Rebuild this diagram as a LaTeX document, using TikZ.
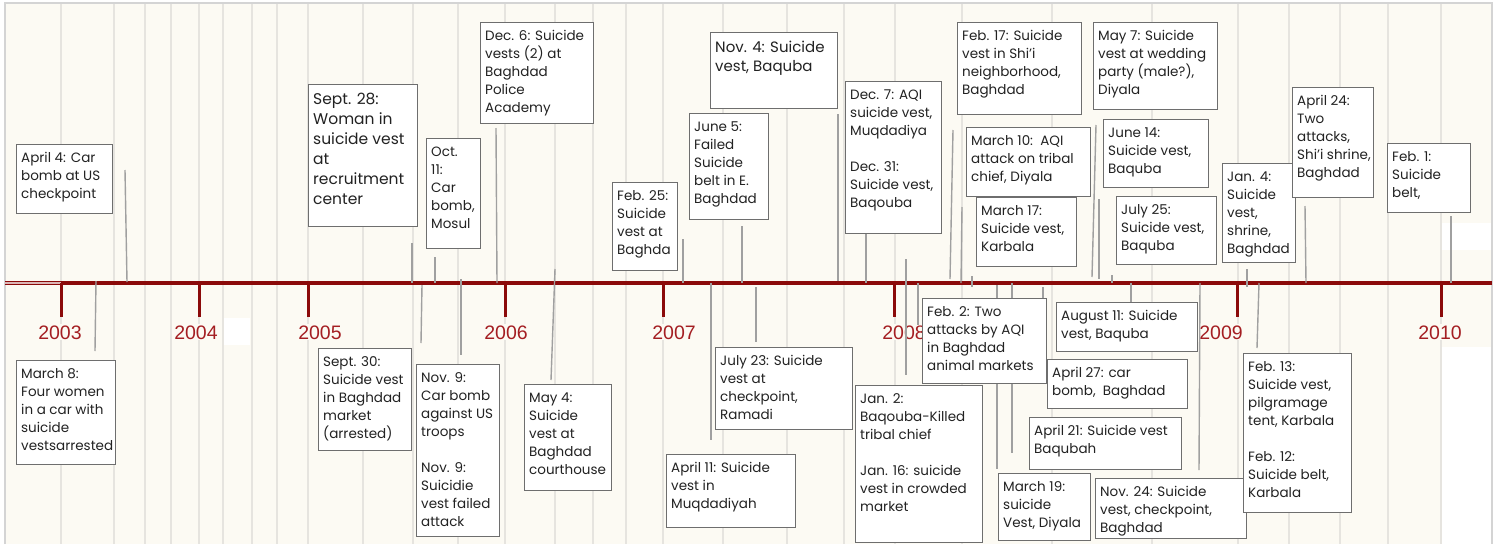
\documentclass[tikz,border=0pt]{standalone}
\usepackage{fontspec}
\setmainfont{Poppins}
\newfontfamily\yearfont{Liberation Sans}
\definecolor{cream}{HTML}{FCFAF3}
\definecolor{gridc}{HTML}{E6E4DF}
\definecolor{axisred}{HTML}{8B0A0A}
\definecolor{yearred}{HTML}{A41E22}
\definecolor{boxgrey}{HTML}{6E6E6E}
\definecolor{conngrey}{HTML}{A0A0A0}
\definecolor{txt}{HTML}{222222}
\definecolor{framec}{HTML}{D4D4D4}
\tikzset{
  ebox/.style={draw=boxgrey, line width=1.3pt, fill=white, anchor=north west, inner sep=0pt},
  etext/.style={anchor=north west, inner sep=0pt, align=left, text=txt,
    font=\fontsize{13.5}{18}\selectfont, execute at begin node=\strut},
  bigtext/.style={font=\fontsize{15.5}{20}\selectfont},
  midtext/.style={font=\fontsize{15}{19.3}\selectfont},
  conn/.style={draw=conngrey, line width=1.4pt},
  gridl/.style={draw=gridc, line width=1.5pt},
  yeartick/.style={draw=axisred, line width=3pt},
  yearlbl/.style={anchor=base, inner sep=1pt, fill=cream, text=yearred,
    font=\yearfont\fontsize{19.5}{20}\selectfont}
}
\newcommand\evbox[7][]{%
  \pgfmathsetmacro\bw{#5-#3}\pgfmathsetmacro\bh{#6-#4}%
  \node[ebox, minimum width=\bw pt, minimum height=\bh pt] (#2) at (#3,#4) {};
  \node[etext,#1] (#2t) at ([xshift=5pt,yshift=-8.5pt]#2.north west) {#7};
}
\newcommand\lnk[3]{%
  \coordinate (#1a) at (#2); \coordinate (#1b) at (#3);
  \draw[conn] (#1a) -- (#1b);
}
\begin{document}
\begin{tikzpicture}[x=1pt,y=-1pt]
\useasboundingbox (0,0) rectangle (1499,544);
\fill[white] (0,0) rectangle (1499,544);
\fill[cream] (5,3) rectangle (1492,544);
\draw[framec, line width=1.5pt] (5,544) -- (5,3) -- (1492,3) -- (1492,544);
% grid
\foreach \gx in {61,114,145,171,199,223,252,277,308,363,413,458,505,555,593,626,663,723,787,844,895,962,1052,1152,1238,1289,1340,1388,1441}
  \draw[gridl] (\gx,4) -- (\gx,544);
\fill[white] (224,318) rectangle (250,345);
\fill[white] (1442,223) rectangle (1491,250);
\fill[white] (1442,347) rectangle (1491,544);
% axis
\coordinate (axL) at (5,283); \coordinate (ax0) at (61,283); \coordinate (axR) at (1492,283);
\draw[axisred, line width=4pt] (axL) -- (axR);
\draw[white!70!axisred, line width=1.2pt] (axL) -- (ax0);
% years
\foreach \yx/\lx/\yr in {61/60/2003,199/196/2004,308/320/2005,505/506/2006,663/674/2007,894/904/2008,1237/1221/2009,1441/1440/2010}{
  \coordinate (t\yr a) at (\yx,283); \coordinate (t\yr b) at (\yx,317);
  \draw[yeartick] (t\yr a) -- (t\yr b);
  \node[yearlbl] (y\yr) at (\lx,339) {\yr};
}
% connectors
\lnk{k1}{125,170}{127,282}
\lnk{k2}{412,243}{412,283}
\lnk{k3}{435,257}{435,283}
\lnk{k4}{496,128}{497,283}
\lnk{k5}{555,269}{551,380}
\lnk{k6}{683,239}{683,283}
\lnk{k7}{742,226}{742,283}
\lnk{k8}{838,114}{838,281}
\lnk{k9}{866,233}{866,283}
\lnk{k10}{906,259}{906,375}
\lnk{k11}{953,130}{950,279}
\lnk{k12}{962,207}{961,283}
\lnk{k13}{972,276}{972,287}
\lnk{k14}{1096,125}{1092,277}
\lnk{k15}{1099,199}{1099,279}
\lnk{k16}{1112,275}{1112,283}
\lnk{k17}{1247,269}{1247,287}
\lnk{k18}{1305,206}{1306,283}
\lnk{k19}{1451,216}{1451,283}
\lnk{m1}{96,281}{95,351}
\lnk{m2}{422,285}{421,343}
\lnk{m3}{461,279}{461,355}
\lnk{m4}{711,283}{711,440}
\lnk{m5}{756,287}{756,342}
\lnk{m6}{918,283}{918,325}
\lnk{m7}{997,285}{997,469}
\lnk{m8}{1012,283}{1012,453}
\lnk{m9}{1043,287}{1043,373}
\lnk{m10}{1131,283}{1131,303}
\lnk{m11}{1200,283}{1199,470}
\lnk{m12}{1259,283}{1257,348}
% top boxes
\evbox{a1}{16}{144}{112}{213}{April 4: Car\\bomb at US\\checkpoint}
\evbox[bigtext]{a2}{308}{84}{417}{226}{Sept. 28:\\Woman in\\suicide vest\\at\\recruitment\\center}
\evbox{a3}{426}{138}{480}{248}{Oct.\\11:\\Car\\bomb,\\Mosul}
\evbox{a4}{480}{22}{593}{123}{Dec. 6: Suicide\\vests (2) at\\Baghdad\\Police\\Academy}
\evbox{a5}{612}{182}{677}{270}{Feb. 25:\\Suicide\\vest at\\Baghda}
\evbox{a6}{689}{113}{768}{219}{June 5:\\Failed\\Suicide\\belt in E.\\Baghdad}
\evbox[midtext]{a7}{710}{32}{837}{108}{Nov. 4: Suicide\\vest, Baquba}
\evbox{a8}{845}{81}{941}{233}{Dec. 7: AQI\\suicide vest,\\Muqdadiya\\[18pt]Dec. 31:\\Suicide vest,\\Baqouba}
\evbox{a9}{957}{22}{1081}{114}{Feb. 17: Suicide\\vest in Shi’i\\neighborhood,\\Baghdad}
\evbox{a10}{966}{127}{1090}{196}{March 10:\ \ AQI\\attack on tribal\\chief, Diyala}
\evbox{a11}{976}{197}{1076}{266}{March 17:\\Suicide vest,\\Karbala}
\evbox{a12}{1093}{22}{1217}{109}{May 7: Suicide\\vest at wedding\\party (male?),\\Diyala}
\evbox{a13}{1103}{119}{1208}{187}{June 14:\\Suicide vest,\\Baquba}
\evbox{a14}{1116}{196}{1216}{264}{July 25:\\Suicide vest,\\Baquba}
\evbox{a15}{1222}{163}{1295}{262}{Jan. 4:\\Suicide\\vest,\\shrine,\\Baghdad}
\evbox{a16}{1292}{87}{1373}{197}{April 24:\\Two\\attacks,\\Shi’i shrine,\\Baghdad}
\evbox{a17}{1387}{143}{1470}{212}{Feb. 1:\\Suicide\\belt,}
% bottom boxes
\evbox{b1}{16}{360}{115}{464}{March 8:\\Four women\\in a car with\\suicide\\vestsarrested}
\evbox{b2}{318}{348}{411}{450}{Sept. 30:\\Suicide vest\\in Baghdad\\market\\(arrested)}
\evbox{b3}{416}{364}{499}{536}{Nov. 9:\\Car bomb\\against US\\troops\\[18pt]Nov. 9:\\Suicidie\\vest failed\\attack}
\evbox{b4}{524}{384}{611}{490}{May 4:\\Suicide\\vest at\\Baghdad\\courthouse}
\evbox{b5}{666}{454}{795}{527}{April 11: Suicide\\vest in\\Muqdadiyah}
\evbox{b6}{715}{347}{852}{429}{July 23: Suicide\\vest at\\checkpoint,\\Ramadi}
\evbox{b7}{855}{385}{982}{542}{Jan. 2:\\Baqouba-Killed\\tribal chief\\[18pt]Jan. 16: suicide\\vest in crowded\\market}
\evbox{b8}{922}{298}{1046}{383}{Feb. 2: Two\\attacks by AQI\\in Baghdad\\animal markets}
\evbox{b9}{998}{473}{1090}{540}{March 19:\\suicide\\Vest, Diyala}
\evbox{b10}{1056}{302}{1197}{351}{August 11: Suicide\\vest, Baquba}
\evbox{b11}{1047}{359}{1187}{408}{April 27: car\\bomb,\ \ Baghdad}
\evbox{b12}{1029}{417}{1181}{469}{April 21: Suicide vest\\Baqubah}
\evbox{b13}{1095}{478}{1246}{538}{Nov. 24: Suicide\\vest, checkpoint,\\Baghdad}
\evbox{b14}{1243}{353}{1351}{512}{Feb. 13:\\Suicide vest,\\pilgramage\\tent, Karbala\\[18pt]Feb. 12:\\Suicide belt,\\Karbala}
\end{tikzpicture}
\end{document}
